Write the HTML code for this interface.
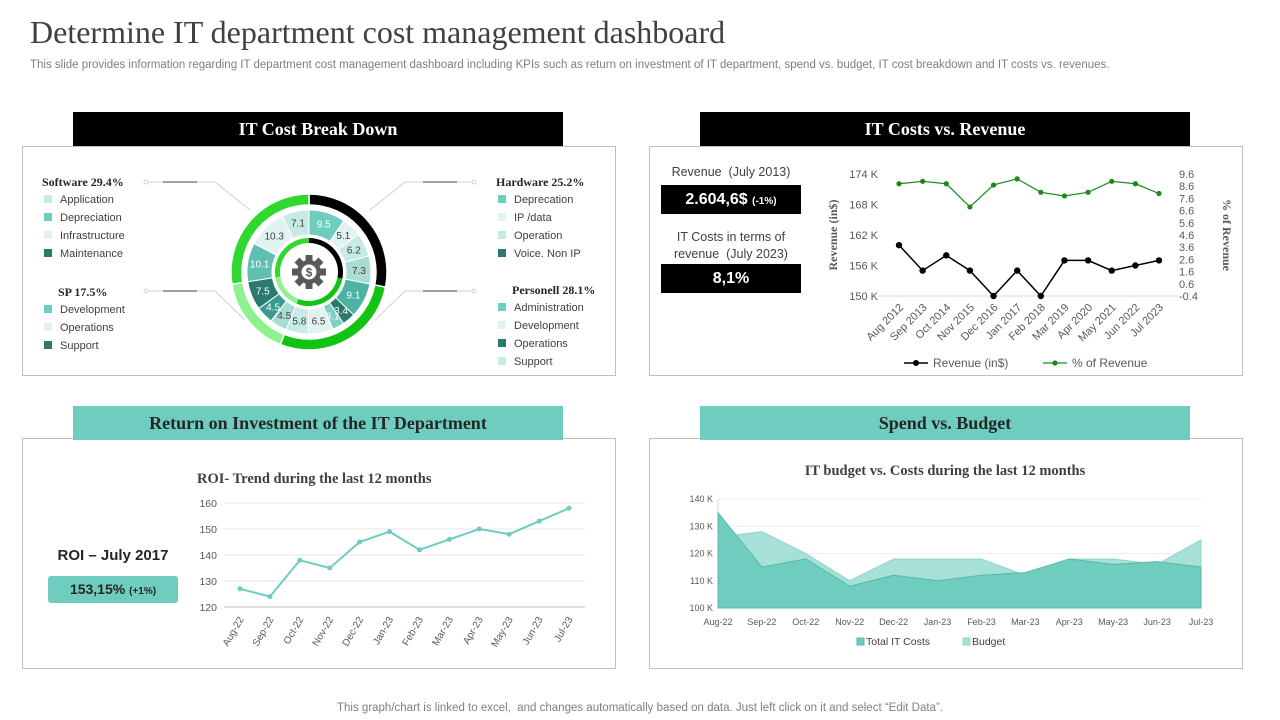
<!DOCTYPE html>
<html><head><meta charset="utf-8">
<style>
body{margin:0;width:1280px;height:720px;background:#fff;position:relative;overflow:hidden;font-family:"Liberation Sans",sans-serif;}
.abs{position:absolute;}
.serif{font-family:"Liberation Serif",serif;}
.panel{position:absolute;border:1px solid #bfbfbf;background:#fff;}
.hdr{position:absolute;height:34px;line-height:34px;text-align:center;font-family:"Liberation Serif",serif;font-weight:bold;font-size:18px;}
.leg{position:absolute;font-size:11px;color:#404040;}
.leg div{height:18px;line-height:18px;}
.sq{display:inline-block;width:8px;height:8px;margin-right:8px;vertical-align:-0px;}
.lt{font-family:"Liberation Serif",serif;font-weight:bold;font-size:12px;color:#262626;}
</style></head><body>
<div class="abs serif" style="left:30px;top:14px;font-size:32px;color:#404040;">Determine IT department cost management dashboard</div>
<div class="abs" style="left:30px;top:59px;font-size:11.5px;color:#7f7f7f;">This slide provides information regarding IT department cost management dashboard including KPIs such as return on investment of IT department, spend vs. budget, IT cost breakdown and IT costs vs. revenues.</div>

<div class="panel" style="left:22px;top:146px;width:592px;height:228px;"></div>
<div class="panel" style="left:649px;top:146px;width:592px;height:228px;"></div>
<div class="panel" style="left:22px;top:438px;width:592px;height:229px;"></div>
<div class="panel" style="left:649px;top:438px;width:592px;height:229px;"></div>

<div class="hdr" style="left:73px;top:112px;width:490px;background:#000;color:#fff;">IT Cost Break Down</div>
<div class="hdr" style="left:700px;top:112px;width:490px;background:#000;color:#fff;">IT Costs vs. Revenue</div>
<div class="hdr" style="left:73px;top:406px;width:490px;background:#6ecdbf;color:#262626;">Return on Investment of the IT Department</div>
<div class="hdr" style="left:700px;top:406px;width:490px;background:#6ecdbf;color:#262626;">Spend vs. Budget</div>

<!-- legends -->
<div class="leg" style="left:42px;top:173px;">
<div class="lt">Software 29.4%</div>
<div style="padding-left:2px"><span class="sq" style="background:#c5ebe4"></span>Application</div>
<div style="padding-left:2px"><span class="sq" style="background:#6ecdbf"></span>Depreciation</div>
<div style="padding-left:2px"><span class="sq" style="background:#e0f3f0"></span>Infrastructure</div>
<div style="padding-left:2px"><span class="sq" style="background:#2a7a6e"></span>Maintenance</div>
</div>
<div class="leg" style="left:42px;top:283px;">
<div class="lt" style="padding-left:16px">SP 17.5%</div>
<div style="padding-left:2px"><span class="sq" style="background:#6ecdbf"></span>Development</div>
<div style="padding-left:2px"><span class="sq" style="background:#e0f3f0"></span>Operations</div>
<div style="padding-left:2px"><span class="sq" style="background:#2a7a6e"></span>Support</div>
</div>
<div class="leg" style="left:496px;top:173px;">
<div class="lt">Hardware 25.2%</div>
<div style="padding-left:2px"><span class="sq" style="background:#6ecdbf"></span>Deprecation</div>
<div style="padding-left:2px"><span class="sq" style="background:#e0f3f0"></span>IP /data</div>
<div style="padding-left:2px"><span class="sq" style="background:#c5ebe4"></span>Operation</div>
<div style="padding-left:2px"><span class="sq" style="background:#2a7a6e"></span>Voice. Non IP</div>
</div>
<div class="leg" style="left:496px;top:281px;">
<div class="lt" style="padding-left:16px">Personell 28.1%</div>
<div style="padding-left:2px"><span class="sq" style="background:#6ecdbf"></span>Administration</div>
<div style="padding-left:2px"><span class="sq" style="background:#e0f3f0"></span>Development</div>
<div style="padding-left:2px"><span class="sq" style="background:#2a7a6e"></span>Operations</div>
<div style="padding-left:2px"><span class="sq" style="background:#c5ebe4"></span>Support</div>
</div>

<svg class="abs" style="left:0;top:0" width="1280" height="720" id="main">
<g stroke="#d0d0d0" stroke-width="1" fill="none">
<circle cx="146" cy="182" r="2"/><path d="M148 182H215L250 210"/><path d="M163 182H197" stroke="#a0a0a0" stroke-width="2"/>
<circle cx="146" cy="291" r="2"/><path d="M148 291H215L245 320"/><path d="M163 291H197" stroke="#a0a0a0" stroke-width="2"/>
<circle cx="474" cy="182" r="2"/><path d="M472 182H405L370 210"/><path d="M423 182H457" stroke="#a0a0a0" stroke-width="2"/>
<circle cx="474" cy="291" r="2"/><path d="M472 291H405L375 320"/><path d="M423 291H457" stroke="#a0a0a0" stroke-width="2"/>
</g>
<g id="donut"></g>
<g id="rev"></g>
<g id="roi"></g>
<g id="bud"></g>
</svg>

<!-- revenue KPI boxes -->
<div class="abs" style="left:661px;top:165px;width:140px;text-align:center;font-size:12.5px;color:#404040;">Revenue&nbsp; (July 2013)</div>
<div class="abs" style="left:661px;top:185px;width:140px;height:29px;line-height:29px;background:#000;color:#fff;text-align:center;font-weight:bold;font-size:16px;">2.604,6$ <span style="font-size:10px">(-1%)</span></div>
<div class="abs" style="left:661px;top:229px;width:140px;text-align:center;font-size:12.5px;color:#404040;line-height:17px;">IT Costs in terms of revenue&nbsp; (July 2023)</div>
<div class="abs" style="left:661px;top:264px;width:140px;height:29px;line-height:29px;background:#000;color:#fff;text-align:center;font-weight:bold;font-size:16px;">8,1%</div>

<div class="abs" style="left:48px;top:547px;width:130px;text-align:center;font-size:15px;font-weight:bold;color:#262626;">ROI – July 2017</div>
<div class="abs" style="left:48px;top:576px;width:130px;height:27px;line-height:27px;background:#6ecdbf;border-radius:3px;text-align:center;font-size:14px;font-weight:bold;color:#262626;">153,15% <span style="font-size:10px">(+1%)</span></div>

<div class="abs serif" style="left:197px;top:471px;font-size:14.5px;font-weight:bold;color:#404040;">ROI- Trend during the last 12 months</div>
<div class="abs serif" style="left:649px;top:463px;width:592px;text-align:center;font-size:14.5px;font-weight:bold;color:#404040;">IT budget vs. Costs during the last 12 months</div>

<div class="abs" style="left:0;top:702px;width:1280px;text-align:center;font-size:11.5px;color:#7f7f7f;">This graph/chart is linked to excel,&nbsp; and changes automatically based on data. Just left click on it and select “Edit Data”.</div>

<script>
const NS="http://www.w3.org/2000/svg";
function el(p,tag,attrs){const e=document.createElementNS(NS,tag);for(const k in attrs)e.setAttribute(k,attrs[k]);p.appendChild(e);return e;}
function txt(p,x,y,s,attrs){const t=el(p,'text',Object.assign({x:x,y:y},attrs));t.textContent=s;return t;}

// ---- donut data ----
const segValues=[9.5,5.1,6.2,7.3,9.1,3.4,3.1,6.5,5.8,4.5,4.5,7.5,10.1,10.3,7.1];
const segColors=["#6ecdbf","#e0f3f0","#c5ebe4","#a8ddd4","#4db3a5","#2a7a6e","#7fd0c4","#e0f3f0","#c8ebe5","#a7dcd3","#3a9a8d","#2a7a6e","#5fc0b2","#e0f3f0","#c5ebe4"];
const groupSizes=[4,5,3,3];
const groupColors=["#000000","#11c411","#8ef28e","#2ed82e"];

// ---- revenue data ----
const revCats=["Aug 2012","Sep 2013","Oct 2014","Nov 2015","Dec 2016","Jan 2017","Feb 2018","Mar 2019","Apr 2020","May 2021","Jun 2022","Jul 2023"];
const revenueK=[160,155,158,155,150,155,150,157,157,155,156,157];
const pctRevenue=[8.8,9.0,8.8,6.9,8.7,9.2,8.1,7.8,8.1,9.0,8.8,8.0];
const revTicks=["150 K","156 K","162 K","168 K","174 K"];
const pctTicks=["-0.4","0.6","1.6","2.6","3.6","4.6","5.6","6.6","7.6","8.6","9.6"];

// ---- roi data ----
const roiCats=["Aug-22","Sep-22","Oct-22","Nov-22","Dec-22","Jan-23","Feb-23","Mar-23","Apr-23","May-23","Jun-23","Jul-23"];
const roiValues=[127,124,138,135,145,149,142,146,150,148,153,158];
const roiTicks=["120","130","140","150","160"];

// ---- budget data ----
const budCats=["Aug-22","Sep-22","Oct-22","Nov-22","Dec-22","Jan-23","Feb-23","Mar-23","Apr-23","May-23","Jun-23","Jul-23"];
const totalCosts=[135,115,118,108,112,110,112,113,118,116,117,115];
const budgetVals=[126,128,120,110,118,118,118,112,118,118,116,125];
const budTicks=["100 K","110 K","120 K","130 K","140 K"];

// donut
(function(){
 const g=document.getElementById('donut');const cx=309,cy=272;
 function arc(r0,r1,a0,a1){const f=a=>[(a-90)*Math.PI/180];
  const p=(r,a)=>{const t=(a-90)*Math.PI/180;return (cx+r*Math.cos(t)).toFixed(2)+" "+(cy+r*Math.sin(t)).toFixed(2);};
  const L=(a1-a0)>180?1:0;
  return "M"+p(r1,a0)+"A"+r1+" "+r1+" 0 "+L+" 1 "+p(r1,a1)+"L"+p(r0,a1)+"A"+r0+" "+r0+" 0 "+L+" 0 "+p(r0,a0)+"Z";}
 const tot=segValues.reduce((a,b)=>a+b,0);let a=0;const starts=[];
 segValues.forEach((v,i)=>{const a1=a+v/tot*360;starts.push([a,a1]);
  const s=el(g,'path',{d:arc(37,62,a,a1),fill:segColors[i],stroke:"#fff","stroke-width":1});
  
  
  const m=(a+a1)/2,t=(m-90)*Math.PI/180,r=50;
  const dark=["#6ecdbf","#4db3a5","#2a7a6e","#3a9a8d","#5fc0b2","#7fd0c4"].includes(segColors[i]);
  const lb=txt(g,cx+r*Math.cos(t),cy+r*Math.sin(t)+3.5,String(v),{"font-size":10,"text-anchor":"middle",fill:dark?"#fff":"#404040"});
  
  
  a=a1;});
 let idx=0;groupSizes.forEach((n,gi)=>{const a0=starts[idx][0],a1=starts[idx+n-1][1];idx+=n;
  const o=el(g,'path',{d:arc(67,78,a0,a1),fill:groupColors[gi],stroke:"#fff","stroke-width":1.5});
  
  
  const ii=el(g,'path',{d:arc(29,34,a0,a1),fill:groupColors[gi]});
  
  });
 // gear icon
 const gear=el(g,'g',{fill:"#595959"});
 for(let k=0;k<8;k++){const r=el(gear,'rect',{x:cx-3.5,y:cy-17,width:7,height:7,transform:"rotate("+(k*45)+" "+cx+" "+cy+")"});}
 el(gear,'circle',{cx:cx,cy:cy,r:12});
 el(g,'circle',{cx:cx,cy:cy,r:7.5,fill:"#fff"});
 txt(g,cx,cy+4.5,"$",{"font-size":12,"font-weight":"bold","text-anchor":"middle",fill:"#595959"});
})();

// revenue chart
(function(){
 const g=document.getElementById('rev');const x0=899,x1=1159,yb=296,yt=174;
 const X=i=>x0+(x1-x0)*i/(revCats.length-1);
 const YL=v=>yb-(v-150)/(174-150)*(yb-yt);
 const YR=v=>yb-(v+0.4)/10*(yb-yt);
 el(g,'line',{x1:x0-20,x2:x1+20,y1:yb,y2:yb,stroke:"#d9d9d9"});
 revTicks.forEach((t,i)=>{const v=parseFloat(t);const l=txt(g,878,YL(v)+4,t,{"font-size":11,"text-anchor":"end",fill:"#595959"});});
 pctTicks.forEach(t=>{const l=txt(g,1179,YR(parseFloat(t))+4,t,{"font-size":11,fill:"#595959"});});
 revCats.forEach((c,i)=>{const l=txt(g,X(i)+5,yb+12,c,{"font-size":11,"text-anchor":"end",fill:"#595959",transform:"rotate(-45 "+(X(i)+5)+" "+(yb+12)+")"});});
 const t1=txt(g,837,235,"Revenue  (in$)",{"font-size":12,"font-weight":"bold","font-family":"Liberation Serif",fill:"#595959","text-anchor":"middle",transform:"rotate(-90 837 235)"});
 const t2=txt(g,1223,235,"% of Revenue",{"font-size":12,"font-weight":"bold","font-family":"Liberation Serif",fill:"#595959","text-anchor":"middle",transform:"rotate(90 1223 235)"});
 const p1=el(g,'polyline',{points:revenueK.map((v,i)=>X(i)+","+YL(v)).join(" "),fill:"none",stroke:"#000","stroke-width":1.5});
 
 revenueK.forEach((v,i)=>{const c=el(g,'circle',{cx:X(i),cy:YL(v),r:3.2,fill:"#000"});});
 const p2=el(g,'polyline',{points:pctRevenue.map((v,i)=>X(i)+","+YR(v)).join(" "),fill:"none",stroke:"#1a8a1a","stroke-width":1.2});
 
 pctRevenue.forEach((v,i)=>{const c=el(g,'circle',{cx:X(i),cy:YR(v),r:2.6,fill:"#1a8a1a"});});
 const lg=el(g,'g',{});
 el(lg,'line',{x1:904,x2:928,y1:363,y2:363,stroke:"#000","stroke-width":1.5});el(lg,'circle',{cx:916,cy:363,r:3,fill:"#000"});
 txt(lg,933,367,"Revenue (in$)",{"font-size":12,fill:"#595959"});
 el(lg,'line',{x1:1043,x2:1067,y1:363,y2:363,stroke:"#1a8a1a","stroke-width":1.2});el(lg,'circle',{cx:1055,cy:363,r:2.6,fill:"#1a8a1a"});
 txt(lg,1072,367,"% of Revenue",{"font-size":12,fill:"#595959"});
})();

// roi chart
(function(){
 const g=document.getElementById('roi');const x0=240,x1=569,yb=607,yt=503;
 const X=i=>x0+(x1-x0)*i/(roiCats.length-1);
 const Y=v=>yb-(v-120)/40*(yb-yt);
 roiTicks.forEach(t=>{const y=Y(parseFloat(t));el(g,'line',{x1:224,x2:585,y1:y,y2:y,stroke:t==="120"?"#bfbfbf":"#e6e6e6"});
  const l=txt(g,217,y+4,t,{"font-size":10.5,"text-anchor":"end",fill:"#595959"});});
 roiCats.forEach((c,i)=>{const l=txt(g,X(i)+4,yb+12,c,{"font-size":10,"text-anchor":"end",fill:"#595959",transform:"rotate(-60 "+(X(i)+4)+" "+(yb+12)+")"});});
 const p=el(g,'polyline',{points:roiValues.map((v,i)=>X(i)+","+Y(v)).join(" "),fill:"none",stroke:"#6ecdbf","stroke-width":2});
 
 roiValues.forEach((v,i)=>{const c=el(g,'circle',{cx:X(i),cy:Y(v),r:2.5,fill:"#6ecdbf"});});
})();

// budget chart
(function(){
 const g=document.getElementById('bud');const x0=718,x1=1201,yb=608,yt=499;
 const X=i=>x0+(x1-x0)*i/(budCats.length-1);
 const Y=v=>yb-(v-100)/40*(yb-yt);
 budTicks.forEach(t=>{const y=Y(parseFloat(t));el(g,'line',{x1:x0,x2:x1,y1:y,y2:y,stroke:"#eeeeee"});
  const l=txt(g,713,y+3,t,{"font-size":9,"text-anchor":"end",fill:"#595959"});});
 el(g,'line',{x1:x0,x2:x0,y1:yt,y2:yb,stroke:"#d9d9d9"});
 const area=vals=>"M"+X(0)+","+yb+" "+vals.map((v,i)=>"L"+X(i)+","+Y(v)).join(" ")+" L"+X(vals.length-1)+","+yb+"Z";
 const b=el(g,'path',{d:area(budgetVals),fill:"#a6e0d6",stroke:"#8fd6ca","stroke-width":1});
 
 const c=el(g,'path',{d:area(totalCosts),fill:"#6ecdbf",stroke:"#5ab8aa","stroke-width":1});
 
 budCats.forEach((t,i)=>{const l=txt(g,X(i),625,t,{"font-size":9,"text-anchor":"middle",fill:"#595959"});});
 const lg=el(g,'g',{});
 el(lg,'rect',{x:857,y:638,width:7,height:7,fill:"#6ecdbf",stroke:"#5ab8aa"});txt(lg,866,645,"Total IT Costs",{"font-size":10.5,fill:"#404040"});
 el(lg,'rect',{x:963,y:638,width:7,height:7,fill:"#a6e0d6",stroke:"#8fd6ca"});txt(lg,972,645,"Budget",{"font-size":10.5,fill:"#404040"});
})();
</script>
</body></html>
